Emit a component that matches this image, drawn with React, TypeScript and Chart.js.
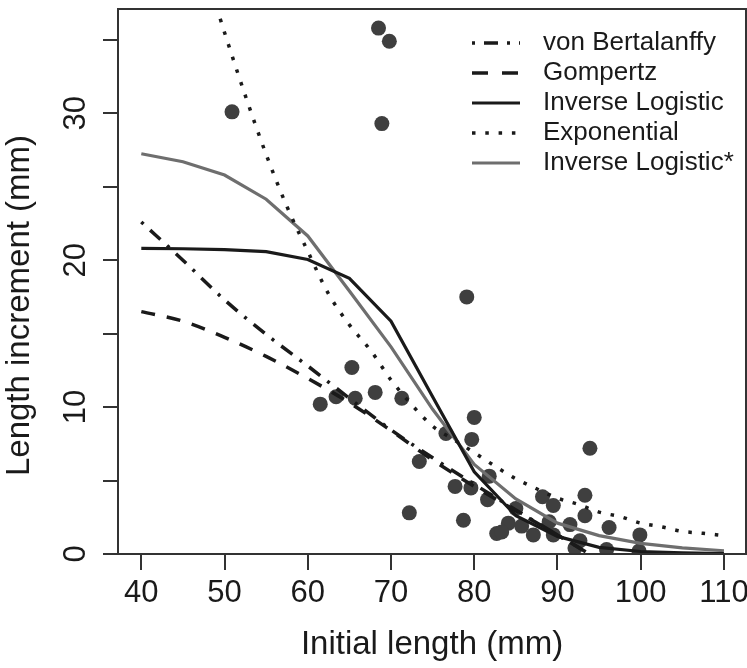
import React, { useEffect, useRef } from 'react';
import { Chart, registerables } from 'chart.js';

Chart.register(...registerables);

const FONT = '"Liberation Sans", Arial, Helvetica, sans-serif';

// Observed data
const obsX = [50.9, 68.5, 69.8, 68.9, 79.1, 93.9, 65.3, 61.5, 63.4, 65.7, 68.1, 71.3, 80.0, 79.7, 76.6, 73.4, 77.7, 79.6, 81.8, 81.6, 72.2, 78.7, 85.0, 88.2, 84.1, 82.7, 83.3, 85.7, 87.1, 89.0, 89.5, 89.5, 91.5, 92.7, 92.1, 93.3, 93.3, 96.2, 95.9, 99.9, 99.8];
const obsY = [30.1, 35.8, 34.9, 29.3, 17.5, 7.2, 12.7, 10.2, 10.7, 10.6, 11.0, 10.6, 9.3, 7.8, 8.2, 6.3, 4.6, 4.5, 5.3, 3.7, 2.8, 2.3, 3.1, 3.9, 2.1, 1.4, 1.5, 1.9, 1.3, 2.2, 3.3, 1.3, 2.0, 0.9, 0.4, 4.0, 2.6, 1.8, 0.3, 1.3, 0.2];

// Fitted curves
const fitX = [40, 45, 50, 55, 60, 65, 70, 75, 80, 85, 90, 95];
const vonBertalanffyY = [22.6, 20.0, 17.3, 14.95, 12.8, 10.6, 8.45, 6.55, 4.75, 3.0, 1.3, -0.4];
const gompertzY = [16.5, 15.85, 14.75, 13.45, 11.95, 10.3, 8.4, 6.4, 4.6, 2.95, 1.3, -0.4];

const logisticX = [40, 45, 50, 55, 60, 65, 70, 75, 80, 85, 90, 95, 100, 105, 110];
const inverseLogisticY = [20.8, 20.78, 20.72, 20.58, 20.05, 18.76, 15.85, 10.7, 5.6, 2.6, 1.2, 0.45, 0.17, 0.07, 0.03];
const inverseLogisticStarY = [27.25, 26.7, 25.8, 24.15, 21.65, 17.9, 14.1, 9.85, 6.1, 3.75, 2.1, 1.25, 0.72, 0.42, 0.22];

const expX = [49, 50, 52.5, 55, 57.5, 60, 62.5, 65, 67.5, 70, 72.5, 75, 77.5, 80, 82.5, 85, 87.5, 90, 92.5, 95, 97.5, 100, 102.5, 105, 107.5, 110];
const exponentialY = [37.3, 35.5, 31.2, 27.2, 23.65, 20.6, 17.7, 15.6, 13.9, 11.85, 10.15, 8.7, 7.8, 6.9, 5.98, 5.12, 4.44, 3.8, 3.38, 2.85, 2.55, 2.1, 1.85, 1.54, 1.41, 1.25];

const xTicks = [40, 50, 60, 70, 80, 90, 100, 110];
const yTicks = [0, 5, 10, 15, 20, 25, 30, 35];
const yLabelled = [0, 10, 20, 30];
const xTitle = 'Initial length (mm)';
const yTitle = 'Length increment (mm)';

const pts = (xs: number[], ys: number[]) => xs.map((x, i) => ({ x, y: ys[i] }));

const boxAndLegend = {
  id: 'boxAndLegend',
  afterDatasetsDraw(chart: any) {
    const { ctx, chartArea: a } = chart;
    ctx.save();
    ctx.setLineDash([]);
    ctx.strokeStyle = '#333';
    ctx.lineWidth = 2;
    ctx.strokeRect(a.left, a.top, a.right - a.left, a.bottom - a.top);
    const x0 = a.right - 274;
    const x1 = x0 + 48;
    const tx = a.right - 203;
    let y = a.top + 34;
    ctx.font = `26px ${FONT}`;
    ctx.textBaseline = 'middle';
    ctx.textAlign = 'left';
    chart.data.datasets.forEach((ds: any) => {
      if (!ds.inLegend) return;
      ctx.beginPath();
      ctx.lineCap = 'butt';
      ctx.setLineDash(ds.legendDash || ds.borderDash || []);
      ctx.lineWidth = ds.borderWidth;
      ctx.strokeStyle = ds.borderColor;
      ctx.moveTo(x0, y);
      ctx.lineTo(x1, y);
      ctx.stroke();
      ctx.setLineDash([]);
      ctx.fillStyle = '#1a1a1a';
      ctx.fillText(ds.label, tx, y);
      y += 30;
    });
    // y-axis title (sits slightly below the plot centre in the reference)
    ctx.translate(20, (a.top + a.bottom) / 2 + 24);
    ctx.rotate(-Math.PI / 2);
    ctx.font = `33px ${FONT}`;
    ctx.textAlign = 'center';
    ctx.textBaseline = 'middle';
    ctx.fillStyle = '#1a1a1a';
    ctx.fillText(yTitle, 0, 0);
    ctx.restore();
  },
};

export default function App() {
  const ref = useRef<HTMLCanvasElement | null>(null);
  useEffect(() => {
    if (!ref.current) return;
    const lineBase = { showLine: true, pointRadius: 0, pointHoverRadius: 0, fill: false, clip: 0, inLegend: true, order: 1 };
    const chart = new Chart(ref.current, {
      type: 'scatter',
      data: {
        datasets: [
          {
            ...lineBase,
            label: 'von Bertalanffy',
            data: pts(fitX, vonBertalanffyY),
            borderColor: '#1a1a1a',
            borderWidth: 3.5,
            borderDash: [3, 9, 14, 9],
            cubicInterpolationMode: 'monotone',
          },
          {
            ...lineBase,
            label: 'Gompertz',
            data: pts(fitX, gompertzY),
            borderColor: '#1a1a1a',
            borderWidth: 3.5,
            borderDash: [14, 12],
            legendDash: [16, 14],
            cubicInterpolationMode: 'monotone',
          },
          {
            ...lineBase,
            label: 'Inverse Logistic',
            data: pts(logisticX, inverseLogisticY),
            borderColor: '#1a1a1a',
            borderWidth: 3.2,
            tension: 0,
          },
          {
            ...lineBase,
            label: 'Exponential',
            data: pts(expX, exponentialY),
            borderColor: '#1a1a1a',
            borderWidth: 3.5,
            borderDash: [3.5, 9.8],
            cubicInterpolationMode: 'monotone',
          },
          {
            ...lineBase,
            label: 'Inverse Logistic*',
            data: pts(logisticX, inverseLogisticStarY),
            borderColor: '#6e6e6e',
            borderWidth: 3.2,
            tension: 0,
          },
          {
            label: 'Observed',
            data: pts(obsX, obsY),
            showLine: false,
            pointRadius: 7.5,
            pointHoverRadius: 7.5,
            pointBackgroundColor: '#3f3f3f',
            pointBorderWidth: 0,
            backgroundColor: '#3f3f3f',
            borderColor: '#3f3f3f',
            clip: 0,
            inLegend: false,
            order: 10,
          },
        ] as any,
      },
      options: {
        responsive: false,
        animation: false,
        devicePixelRatio: 1,
        layout: { autoPadding: false, padding: { top: 9, right: 1, left: 0, bottom: 0 } },
        plugins: { legend: { display: false }, tooltip: { enabled: false } },
        events: [],
        scales: {
          x: {
            type: 'linear',
            min: 37.2,
            max: 112.65,
            afterBuildTicks: (s: any) => {
              s.ticks = xTicks.map((v) => ({ value: v }));
            },
            afterFit: (s: any) => {
              s.height = 114;
              s.paddingLeft = 0;
              s.paddingRight = 0;
            },
            grid: { drawOnChartArea: false, drawTicks: true, tickLength: 16, lineWidth: 2, tickWidth: 2, tickColor: '#333', color: '#333' },
            border: { display: false },
            ticks: {
              autoSkip: false,
              maxRotation: 0,
              minRotation: 0,
              padding: 5,
              color: '#1a1a1a',
              font: { family: FONT, size: 31 },
              callback: (v: any) => String(v),
            },
            title: {
              display: true,
              text: xTitle,
              color: '#1a1a1a',
              font: { family: FONT, size: 33 },
              padding: { top: 0, bottom: 3 },
            },
          },
          y: {
            type: 'linear',
            min: 0,
            max: 37.1,
            afterBuildTicks: (s: any) => {
              s.ticks = yTicks.map((v) => ({ value: v }));
            },
            afterFit: (s: any) => {
              s.width = 118;
              s.paddingTop = 0;
              s.paddingBottom = 0;
            },
            grid: { drawOnChartArea: false, drawTicks: true, tickLength: 15, lineWidth: 2, tickWidth: 2, tickColor: '#333', color: '#333' },
            border: { display: false },
            ticks: {
              autoSkip: false,
              minRotation: 90,
              maxRotation: 90,
              crossAlign: 'center',
              padding: 9,
              color: '#1a1a1a',
              font: { family: FONT, size: 31 },
              callback: (v: any) => (yLabelled.includes(v) ? String(v) : ''),
            },
            title: { display: false },
          },
        },
      } as any,
      plugins: [boxAndLegend],
    });
    return () => chart.destroy();
  }, []);
  return (
    <div style={{ position: 'absolute', left: 0, top: 0, width: 747, height: 668, background: '#fff' }}>
      <canvas ref={ref} width={747} height={668} style={{ display: 'block' }} />
    </div>
  );
}
